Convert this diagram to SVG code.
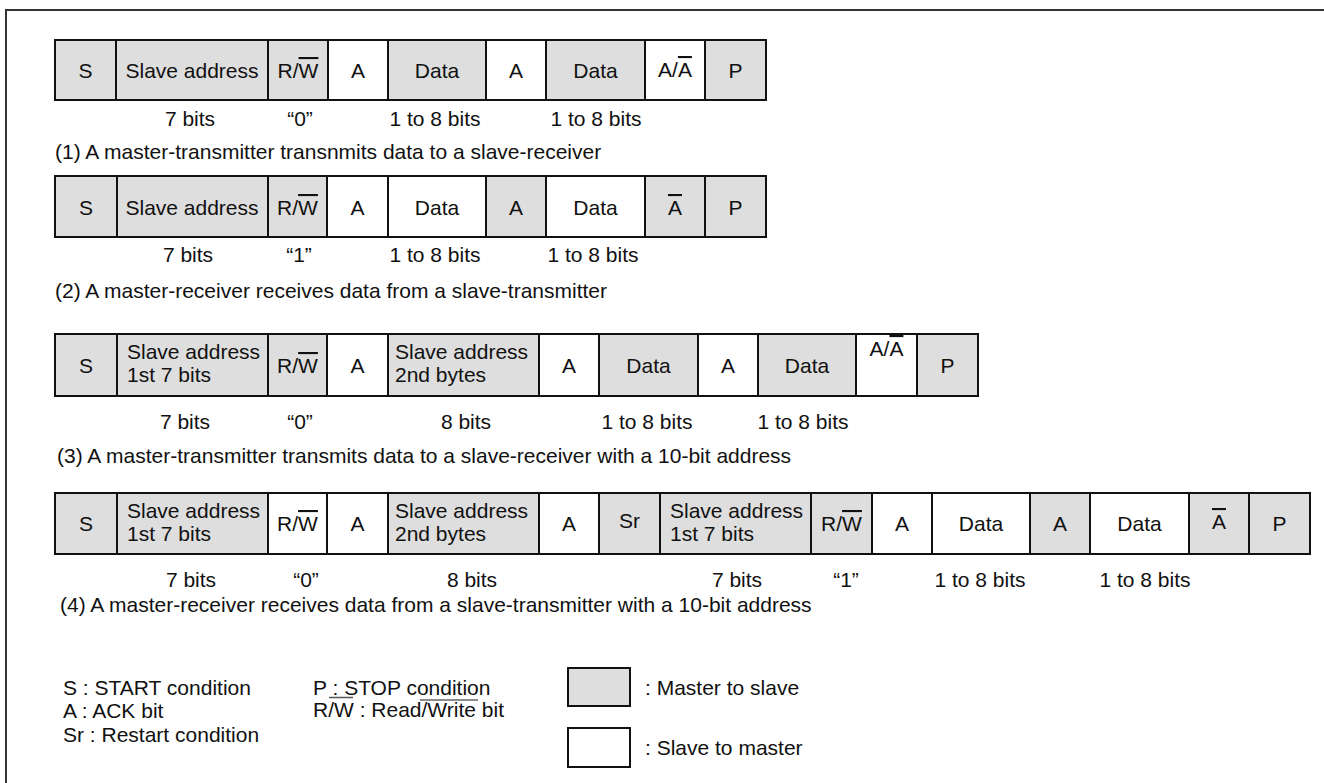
<svg xmlns="http://www.w3.org/2000/svg" width="1324" height="783" viewBox="0 0 1324 783">
<style>
text{font-family:"Liberation Sans",Arial,Helvetica,sans-serif;font-size:21px;fill:#111}
.t{text-anchor:middle}
.m{fill:#dedede;stroke:#111;stroke-width:2}
.s{fill:#ffffff;stroke:#111;stroke-width:2}
.ol{text-decoration:overline}
.frame{fill:none;stroke:#333;stroke-width:2}
</style>
<rect width="1324" height="783" fill="#fff"/>
<rect class="frame" x="6" y="10" width="1330" height="790"/>

<g id="row1">
<g id="r1-s"><rect class="m" x="55" y="40" width="61" height="60"/><text class="t" x="85.5" y="78">S</text></g>
<g id="r1-addr"><rect class="m" x="116" y="40" width="152" height="60"/><text class="t" x="192" y="78">Slave address</text></g>
<g id="r1-rw"><rect class="m" x="268" y="40" width="60" height="60"/><text class="t" x="298" y="78">R/<tspan class="ol">W</tspan></text></g>
<g id="r1-a1"><rect class="s" x="328" y="40" width="60" height="60"/><text class="t" x="358" y="78">A</text></g>
<g id="r1-d1"><rect class="m" x="388" y="40" width="98" height="60"/><text class="t" x="437" y="78">Data</text></g>
<g id="r1-a2"><rect class="s" x="486" y="40" width="60" height="60"/><text class="t" x="516" y="78">A</text></g>
<g id="r1-d2"><rect class="m" x="546" y="40" width="99" height="60"/><text class="t" x="595.5" y="78">Data</text></g>
<g id="r1-a3"><rect class="s" x="645" y="40" width="60" height="60"/><text class="t" x="675" y="77">A/<tspan class="ol">A</tspan></text></g>
<g id="r1-p"><rect class="m" x="705" y="40" width="61" height="60"/><text class="t" x="735.5" y="78">P</text></g>
<g id="r1-labels">
<text class="t" x="190" y="126">7 bits</text>
<text class="t" x="300" y="126">“0”</text>
<text class="t" x="435" y="126">1 to 8 bits</text>
<text class="t" x="596" y="126">1 to 8 bits</text>
</g>
<text x="55" y="159">(1) A master-transmitter transnmits data to a slave-receiver</text>
</g>

<g id="row2">
<g id="r2-s"><rect class="m" x="55" y="176" width="62" height="61"/><text class="t" x="86" y="215">S</text></g>
<g id="r2-addr"><rect class="m" x="117" y="176" width="151" height="61"/><text class="t" x="192" y="215">Slave address</text></g>
<g id="r2-rw"><rect class="m" x="268" y="176" width="59" height="61"/><text class="t" x="297.5" y="215">R/<tspan class="ol">W</tspan></text></g>
<g id="r2-a1"><rect class="s" x="327" y="176" width="61" height="61"/><text class="t" x="357.5" y="215">A</text></g>
<g id="r2-d1"><rect class="s" x="388" y="176" width="98" height="61"/><text class="t" x="437" y="215">Data</text></g>
<g id="r2-a2"><rect class="m" x="486" y="176" width="60" height="61"/><text class="t" x="516" y="215">A</text></g>
<g id="r2-d2"><rect class="s" x="546" y="176" width="99" height="61"/><text class="t" x="595.5" y="215">Data</text></g>
<g id="r2-na"><rect class="m" x="645" y="176" width="60" height="61"/><text class="t" x="675" y="215"><tspan class="ol">A</tspan></text></g>
<g id="r2-p"><rect class="m" x="705" y="176" width="61" height="61"/><text class="t" x="735.5" y="215">P</text></g>
<g id="r2-labels">
<text class="t" x="188" y="262">7 bits</text>
<text class="t" x="299" y="262">“1”</text>
<text class="t" x="435" y="262">1 to 8 bits</text>
<text class="t" x="593" y="262">1 to 8 bits</text>
</g>
<text x="55" y="298">(2) A master-receiver receives data from a slave-transmitter</text>
</g>

<g id="row3">
<g id="r3-s"><rect class="m" x="55" y="334" width="62" height="62"/><text class="t" x="86" y="373">S</text></g>
<g id="r3-addr1"><rect class="m" x="117" y="334" width="151" height="62"/><text x="127" y="359">Slave address</text><text x="127" y="382">1st 7 bits</text></g>
<g id="r3-rw"><rect class="m" x="268" y="334" width="59" height="62"/><text class="t" x="297.5" y="373">R/<tspan class="ol">W</tspan></text></g>
<g id="r3-a1"><rect class="s" x="327" y="334" width="61" height="62"/><text class="t" x="357.5" y="373">A</text></g>
<g id="r3-addr2"><rect class="m" x="388" y="334" width="151" height="62"/><text x="395" y="359">Slave address</text><text x="395" y="382">2nd bytes</text></g>
<g id="r3-a2"><rect class="s" x="539" y="334" width="60" height="62"/><text class="t" x="569" y="373">A</text></g>
<g id="r3-d1"><rect class="m" x="599" y="334" width="99" height="62"/><text class="t" x="648.5" y="373">Data</text></g>
<g id="r3-a3"><rect class="s" x="698" y="334" width="60" height="62"/><text class="t" x="728" y="373">A</text></g>
<g id="r3-d2"><rect class="m" x="758" y="334" width="98" height="62"/><text class="t" x="807" y="373">Data</text></g>
<g id="r3-a4"><rect class="s" x="856" y="334" width="61" height="62"/><text class="t" x="886.5" y="356">A/<tspan class="ol">A</tspan></text></g>
<g id="r3-p"><rect class="m" x="917" y="334" width="61" height="62"/><text class="t" x="947.5" y="373">P</text></g>
<g id="r3-labels">
<text class="t" x="185" y="429">7 bits</text>
<text class="t" x="300" y="429">“0”</text>
<text class="t" x="466" y="429">8 bits</text>
<text class="t" x="647" y="429">1 to 8 bits</text>
<text class="t" x="803" y="429">1 to 8 bits</text>
</g>
<text x="57" y="463">(3) A master-transmitter transmits data to a slave-receiver with a 10-bit address</text>
</g>

<g id="row4">
<g id="r4-s"><rect class="m" x="55" y="493" width="62" height="61"/><text class="t" x="86" y="531">S</text></g>
<g id="r4-addr1"><rect class="m" x="117" y="493" width="151" height="61"/><text x="127" y="518">Slave address</text><text x="127" y="541">1st 7 bits</text></g>
<g id="r4-rw1"><rect class="s" x="268" y="493" width="59" height="61"/><text class="t" x="297.5" y="531">R/<tspan class="ol">W</tspan></text></g>
<g id="r4-a1"><rect class="s" x="327" y="493" width="61" height="61"/><text class="t" x="357.5" y="531">A</text></g>
<g id="r4-addr2"><rect class="m" x="388" y="493" width="151" height="61"/><text x="395" y="518">Slave address</text><text x="395" y="541">2nd bytes</text></g>
<g id="r4-a2"><rect class="s" x="539" y="493" width="60" height="61"/><text class="t" x="569" y="531">A</text></g>
<g id="r4-sr"><rect class="m" x="599" y="493" width="61" height="61"/><text class="t" x="629.5" y="528">Sr</text></g>
<g id="r4-addr3"><rect class="m" x="660" y="493" width="151" height="61"/><text x="670" y="518">Slave address</text><text x="670" y="541">1st 7 bits</text></g>
<g id="r4-rw2"><rect class="m" x="811" y="493" width="61" height="61"/><text class="t" x="841.5" y="531">R/<tspan class="ol">W</tspan></text></g>
<g id="r4-a3"><rect class="s" x="872" y="493" width="60" height="61"/><text class="t" x="902" y="531">A</text></g>
<g id="r4-d1"><rect class="s" x="932" y="493" width="98" height="61"/><text class="t" x="981" y="531">Data</text></g>
<g id="r4-a4"><rect class="m" x="1030" y="493" width="60" height="61"/><text class="t" x="1060" y="531">A</text></g>
<g id="r4-d2"><rect class="s" x="1090" y="493" width="99" height="61"/><text class="t" x="1139.5" y="531">Data</text></g>
<g id="r4-na"><rect class="m" x="1189" y="493" width="60" height="61"/><text class="t" x="1219" y="529"><tspan class="ol">A</tspan></text></g>
<g id="r4-p"><rect class="m" x="1249" y="493" width="61" height="61"/><text class="t" x="1279.5" y="531">P</text></g>
<g id="r4-labels">
<text class="t" x="191" y="587">7 bits</text>
<text class="t" x="306" y="587">“0”</text>
<text class="t" x="472" y="587">8 bits</text>
<text class="t" x="737" y="587">7 bits</text>
<text class="t" x="846" y="587">“1”</text>
<text class="t" x="980" y="587">1 to 8 bits</text>
<text class="t" x="1145" y="587">1 to 8 bits</text>
</g>
<text x="60" y="612">(4) A master-receiver receives data from a slave-transmitter with a 10-bit address</text>
</g>

<g id="legend">
<text x="63" y="695">S : START condition</text>
<text x="63" y="718">A : ACK bit</text>
<text x="63" y="742">Sr : Restart condition</text>
<text x="313" y="695">P : STOP condition</text>
<text x="313" y="717">R/W : Read/Write bit</text>
<line x1="329" y1="697.5" x2="353" y2="697.5" stroke="#555" stroke-width="1.5"/>
<line x1="420" y1="700" x2="478" y2="700" stroke="#666" stroke-width="1.5"/>
<g id="legend-master"><rect class="m" x="568" y="668" width="62" height="38"/><text x="645" y="695">: Master to slave</text></g>
<g id="legend-slave"><rect class="s" x="568" y="728" width="62" height="39"/><text x="645" y="755">: Slave to master</text></g>
</g>
<g id="connectors"></g>
</svg>
